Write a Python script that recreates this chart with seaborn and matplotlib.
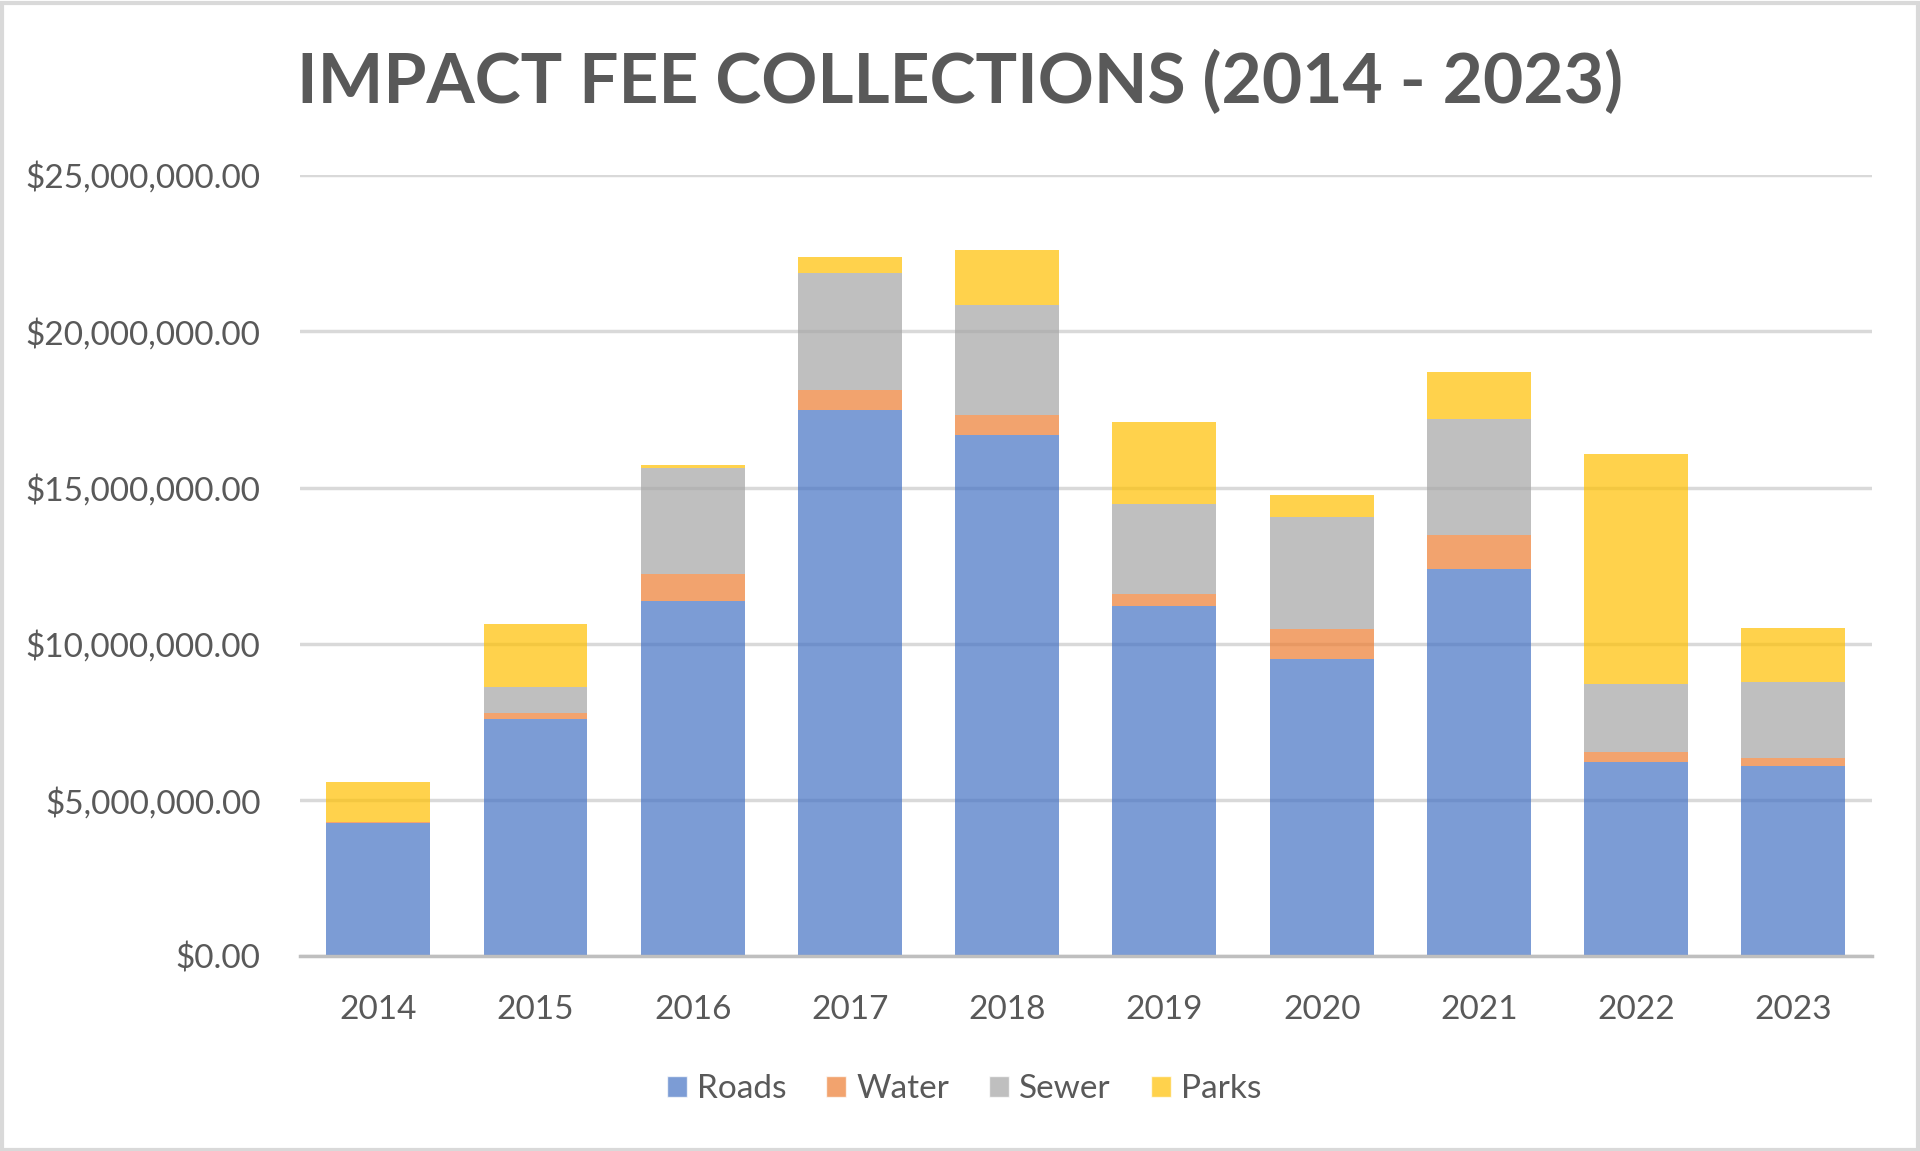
import pandas as pd
import seaborn as sns
import matplotlib.pyplot as plt
from matplotlib.ticker import FuncFormatter
from matplotlib.patches import Rectangle, Patch

# values in millions of dollars
years = ['2014', '2015', '2016', '2017', '2018', '2019', '2020', '2021', '2022', '2023']
roads = [4.28, 7.59, 11.36, 17.49, 16.67, 11.21, 9.52, 12.38, 6.22, 6.08]
water = [0.02, 0.21, 0.87, 0.64, 0.65, 0.38, 0.96, 1.11, 0.31, 0.28]
sewer = [0.01, 0.81, 3.40, 3.72, 3.52, 2.87, 3.59, 3.71, 2.19, 2.43]
parks = [1.28, 2.02, 0.08, 0.52, 1.76, 2.64, 0.69, 1.49, 7.35, 1.73]

series = ['Roads', 'Water', 'Sewer', 'Parks']
colors = ['#4472C4', '#ED7D31', '#A5A5A5', '#FFC000']

df = pd.DataFrame({'Year': years, 'Roads': roads, 'Water': water,
                   'Sewer': sewer, 'Parks': parks})
for s in series:
    df[s] = df[s] * 1e6

sns.set_theme(style="white")
plt.rcParams['font.family'] = ['Lato', 'DejaVu Sans']
text_color = '#595959'

fig = plt.figure(figsize=(19.2, 11.51), dpi=100)
ax = fig.add_axes([0.156, 0.169, 0.819, 0.679])

bottom = pd.Series(0.0, index=df.index)
for s, c in zip(series, colors):
    sns.barplot(x='Year', y=s, data=df, color=c, alpha=0.7, width=0.66,
                saturation=1, linewidth=0, bottom=bottom.values, ax=ax,
                errorbar=None, zorder=2)
    bottom = bottom + df[s]

ax.set_ylim(0, 25e6)
ax.set_yticks([0, 5e6, 10e6, 15e6, 20e6, 25e6])
ax.yaxis.set_major_formatter(FuncFormatter(lambda v, p: '${:,.2f}'.format(v)))
ax.yaxis.grid(True, color='#D9D9D9', linewidth=2.5)
ax.set_axisbelow(True)
ax.set_xlabel('')
ax.set_ylabel('')
for side in ['top', 'right', 'left']:
    ax.spines[side].set_visible(False)
ax.spines['bottom'].set_color('#BFBFBF')
ax.spines['bottom'].set_linewidth(2.5)
ax.tick_params(axis='both', length=0, labelsize=24, colors=text_color)
ax.tick_params(axis='x', pad=28)
ax.tick_params(axis='y', pad=28)

fig.text(0.5, 0.928, 'IMPACT FEE COLLECTIONS (2014 - 2023)', ha='center', va='center',
         fontsize=50, fontweight='bold', color=text_color)

handles = [Patch(facecolor=c, alpha=0.7, label=s) for s, c in zip(series, colors)]
fig.legend(handles=handles, loc='center', bbox_to_anchor=(0.502, 0.054), ncol=4,
           frameon=False, fontsize=24, labelcolor=text_color, handlelength=0.6,
           handleheight=0.6, handletextpad=0.3, columnspacing=1.2)

fig.patches.append(Rectangle((0.001, 0.001), 0.998, 0.996, transform=fig.transFigure,
                             fill=False, edgecolor='#D9D9D9', linewidth=3))

fig.savefig('out.png', dpi=100)
